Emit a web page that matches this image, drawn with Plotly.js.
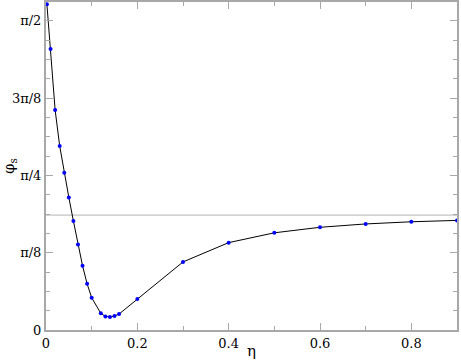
<!DOCTYPE html>
<html>
<head>
<meta charset="utf-8">
<script src="https://cdn.plot.ly/plotly-3.0.1.min.js"></script>
<style>
  html, body { margin: 0; padding: 0; background: #fff; }
  #chart { width: 461px; height: 360px; }
</style>
</head>
<body>
<div id="chart"></div>
<script>
// eta values and the phase phi_s
const eta = [0.002, 0.01, 0.02, 0.03, 0.04, 0.05, 0.06, 0.07, 0.08, 0.09, 0.1,
  0.12, 0.13, 0.14, 0.15, 0.16, 0.2, 0.3, 0.4, 0.5, 0.6, 0.7, 0.8, 0.9];
const phiS = [1.655, 1.428, 1.118, 0.935, 0.799, 0.674, 0.554, 0.435, 0.327, 0.235, 0.164,
  0.085, 0.069, 0.066, 0.071, 0.081, 0.158, 0.346, 0.444, 0.494, 0.522, 0.539, 0.550, 0.557];

// horizontal reference level
const refLevel = 0.584;

const yTickVals = [0, Math.PI / 8, Math.PI / 4, 3 * Math.PI / 8, Math.PI / 2];
const yTickText = ['0', 'π/8', 'π/4', '3π/8', 'π/2'];
const xTickVals = [0, 0.2, 0.4, 0.6, 0.8];
const xTickText = ['0', '0.2', '0.4', '0.6', '0.8'];

const frameColor = '#a8a8a8';
const serif = 'DejaVu Serif';

const trace = {
  x: eta,
  y: phiS,
  type: 'scatter',
  mode: 'lines+markers',
  line: { color: '#000000', width: 1 },
  marker: { color: '#0000ff', size: 4 },
  cliponaxis: false,
  hoverinfo: 'skip'
};

const refTrace = {
  x: [0, 0.9],
  y: [refLevel, refLevel],
  type: 'scatter',
  mode: 'lines',
  line: { color: '#b4b4b4', width: 1 },
  hoverinfo: 'skip'
};

const axisCommon = {
  showline: true,
  linecolor: frameColor,
  linewidth: 2,
  mirror: 'allticks',
  ticks: 'inside',
  ticklen: 7,
  tickwidth: 1,
  tickcolor: frameColor,
  showgrid: false,
  zeroline: false,
  tickfont: { family: serif, size: 13, color: '#000' }
};

const layout = {
  width: 461,
  height: 360,
  margin: { l: 46, r: 4, t: 2, b: 30 },
  paper_bgcolor: '#ffffff',
  plot_bgcolor: '#ffffff',
  showlegend: false,
  font: { family: serif, size: 13, color: '#000' },
  xaxis: Object.assign({}, axisCommon, {
    range: [0, 0.9],
    tickvals: xTickVals,
    ticktext: xTickText,
    minor: { ticks: 'inside', ticklen: 4, tickcolor: frameColor, dtick: 0.1, tick0: 0 },
    title: { text: 'η', font: { family: serif, size: 15 }, standoff: 0 }
  }),
  yaxis: Object.assign({}, axisCommon, {
    range: [0, 1.667],
    tickvals: yTickVals,
    ticktext: yTickText,
    minor: { ticks: 'inside', ticklen: 4, tickcolor: frameColor, dtick: Math.PI / 32, tick0: 0 },
    title: { text: 'φ<sub>s</sub>', font: { family: serif, size: 15 }, standoff: 4 }
  })
};

Plotly.newPlot('chart', [refTrace, trace], layout, { displayModeBar: false, staticPlot: true });
</script>
</body>
</html>
